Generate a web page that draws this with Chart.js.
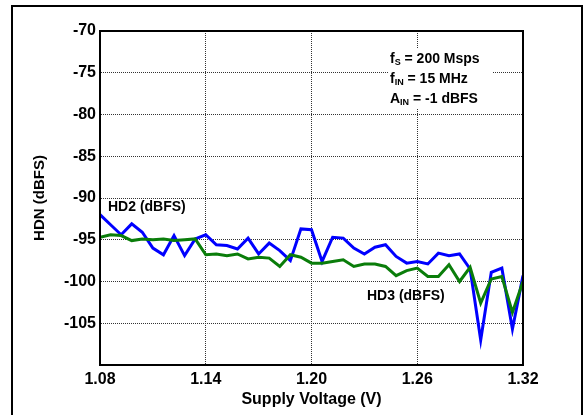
<!DOCTYPE html>
<html><head><meta charset="utf-8">
<script src="https://cdn.jsdelivr.net/npm/chart.js@4.4.1/dist/chart.umd.min.js"></script>
<style>html,body{margin:0;padding:0;background:#fff;overflow:hidden}#wrap{position:relative;width:586px;height:415px}canvas{display:block}</style>
</head><body><div id="wrap"><canvas id="c" width="586" height="415"></canvas></div>
<script>
const voltages = [1.080,1.086,1.092,1.098,1.104,1.110,1.116,1.122,1.128,1.134,1.140,1.146,1.152,1.158,1.164,1.170,1.176,1.182,1.188,1.194,1.200,1.206,1.212,1.218,1.224,1.230,1.236,1.242,1.248,1.254,1.260,1.266,1.272,1.278,1.284,1.290,1.296,1.302,1.308,1.314,1.320];
const hd2 = [-92.0,-93.2,-94.4,-93.1,-94.1,-96.0,-96.8,-94.5,-96.9,-94.9,-94.4,-95.6,-95.7,-96.1,-94.8,-96.7,-95.4,-96.3,-97.5,-93.7,-93.8,-97.6,-94.7,-94.8,-96.0,-96.7,-95.9,-95.6,-97.0,-97.8,-97.6,-97.9,-96.6,-96.9,-96.7,-98.5,-107.0,-98.9,-98.4,-105.7,-99.3];
const hd3 = [-94.7,-94.4,-94.5,-95.1,-94.9,-95.0,-94.9,-95.1,-95.0,-94.9,-96.8,-96.7,-96.9,-96.7,-97.3,-97.1,-97.2,-98.2,-96.8,-97.1,-97.8,-97.8,-97.6,-97.4,-98.2,-97.9,-97.9,-98.2,-99.3,-98.7,-98.4,-99.4,-99.4,-98.0,-100.0,-98.3,-102.6,-99.7,-99.4,-103.7,-100.0];
const xTicks = [1.08,1.14,1.20,1.26,1.32];
const xTickLabels = ['1.08','1.14','1.20','1.26','1.32'];
const yTicks = [-110,-105,-100,-95,-90,-85,-80,-75,-70];
const yTickLabels = ['','-105','-100','-95','-90','-85','-80','-75','-70'];
const seriesNames = ['HD2 (dBFS)','HD3 (dBFS)'];
const xTitle = 'Supply Voltage (V)';
const yTitle = 'HDN (dBFS)';
const noteLines = [['f','S',' = 200 Msps'],['f','IN',' = 15 MHz'],['A','IN',' = -1 dBFS']];

const FONT = '"Liberation Sans", Arial, sans-serif';

const deco = {
  id: 'deco',
  beforeDraw(chart) {
    const ctx = chart.ctx;
    ctx.save();
    ctx.fillStyle = '#fff';
    ctx.fillRect(0, 0, chart.width, chart.height);
    ctx.strokeStyle = '#000';
    ctx.lineWidth = 2;
    ctx.beginPath();
    ctx.moveTo(12, 420); ctx.lineTo(12, 6); ctx.lineTo(582, 6); ctx.lineTo(582, 420);
    ctx.stroke();
    ctx.restore();
  },
  beforeDatasetsDraw(chart) {
    const ctx = chart.ctx;
    ctx.save();
    ctx.fillStyle = '#fff';
    ctx.fillRect(388, 48, 105, 61);
    ctx.fillStyle = '#000';
    ctx.textBaseline = 'middle';
    const ys = [59, 79, 99];
    noteLines.forEach((ln, i) => {
      let x = 390;
      ctx.font = 'bold 14px ' + FONT;
      ctx.fillText(ln[0], x, ys[i]);
      x += ctx.measureText(ln[0]).width;
      ctx.font = 'bold 9px ' + FONT;
      ctx.fillText(ln[1], x, ys[i] + 4);
      x += ctx.measureText(ln[1]).width;
      ctx.font = 'bold 14px ' + FONT;
      ctx.fillText(ln[2], x, ys[i]);
    });
    ctx.restore();
  },
  afterDraw(chart) {
    const ctx = chart.ctx, a = chart.chartArea;
    ctx.save();
    ctx.strokeStyle = '#000';
    ctx.lineWidth = 2;
    ctx.strokeRect(a.left, a.top, a.right - a.left, a.bottom - a.top);
    ctx.fillStyle = '#000';
    ctx.font = 'bold 14px ' + FONT;
    ctx.textBaseline = 'middle';
    ctx.textAlign = 'left';
    ctx.fillText(seriesNames[0], 108, 207);
    ctx.fillText(seriesNames[1], 367, 296);
    ctx.restore();
  }
};

new Chart(document.getElementById('c'), {
  type: 'line',
  data: {
    datasets: [
      { label: seriesNames[1], data: voltages.map((v, i) => ({x: v, y: hd3[i]})), borderColor: '#0a7d0a', borderWidth: 3, pointRadius: 0, tension: 0, fill: false },
      { label: seriesNames[0], data: voltages.map((v, i) => ({x: v, y: hd2[i]})), borderColor: '#0000ff', borderWidth: 3, pointRadius: 0, tension: 0, fill: false }
    ]
  },
  options: {
    responsive: false,
    animation: false,
    devicePixelRatio: 1,
    layout: { padding: { left: 0, right: 63, top: 31, bottom: 0 } },
    plugins: { legend: { display: false }, tooltip: { enabled: false } },
    scales: {
      x: {
        type: 'linear', min: 1.08, max: 1.32,
        afterBuildTicks: s => { s.ticks = xTicks.map(v => ({value: v})); },
        afterFit: s => { s.height = 50; },
        ticks: { color: '#000', padding: 5, maxRotation: 0, autoSkip: false, font: { family: FONT, size: 16, weight: 'bold' },
          callback: (v, i) => xTickLabels[i] },
        grid: { color: '#333', lineWidth: 1, drawTicks: false },
        border: { display: true, color: '#000', width: 2, dash: [1, 1] },
        title: { display: true, text: xTitle, color: '#000', font: { family: FONT, size: 16, weight: 'bold' }, padding: { top: 0, bottom: 6 } }
      },
      y: {
        type: 'linear', min: -110, max: -70,
        afterBuildTicks: s => { s.ticks = yTicks.map(v => ({value: v})); },
        afterFit: s => { s.width = 100; },
        ticks: { color: '#000', padding: 4, autoSkip: false, font: { family: FONT, size: 16, weight: 'bold' },
          callback: (v, i) => yTickLabels[i] },
        grid: { color: '#333', lineWidth: 1, drawTicks: false },
        border: { display: true, color: '#000', width: 2, dash: [1, 1] },
        title: { display: true, text: yTitle, color: '#000', font: { family: FONT, size: 15, weight: 'bold' }, padding: { top: 31, bottom: 0 } }
      }
    }
  },
  plugins: [deco]
});
</script>
</body></html>
